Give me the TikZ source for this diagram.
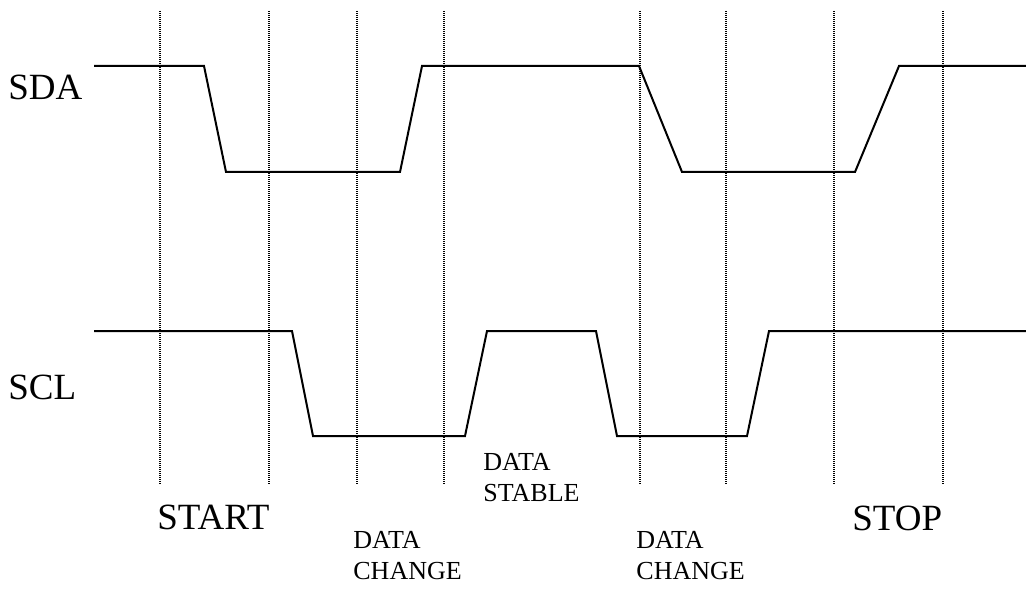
\documentclass[tikz,border=0pt]{standalone}
\usepackage{fontspec}
\setmainfont{Liberation Serif}

\begin{document}
\begin{tikzpicture}[x=0.5pt, y=-0.5pt,
    signal/.style={line width=1pt, line join=miter},
    tick/.style={line width=0.7pt, dash pattern=on 0.5pt off 0.5pt},
    biglabel/.style={inner sep=0pt, anchor=north west, font=\fontsize{18.5}{22}\selectfont},
    smalllabel/.style={inner sep=0pt, anchor=north west, align=left, font=\fontsize{13}{15.5}\selectfont}]
    \useasboundingbox (0,0) rectangle (1026,588);
    % dotted time marks
    \foreach \x in {160,269,357,444,640,726,834,943}
        \draw[tick] (\x,11) -- (\x,484);
    % SDA
    \draw[signal] (94,66) -- (204,66) -- (226,172) -- (400,172) -- (422,66) -- (639,66)
        -- (682,172) -- (855,172) -- (899,66) -- (1026,66);
    % SCL
    \draw[signal] (94,331) -- (292,331) -- (313,436) -- (465,436) -- (487,331) -- (596,331)
        -- (617,436) -- (747,436) -- (769,331) -- (1026,331);
    % labels
    \node[biglabel] (sda) at (8,75) {SDA};
    \node[biglabel] (scl) at (8,375) {SCL};
    \node[biglabel] (start) at (157,505) {START};
    \node[biglabel] (stop) at (852,506) {STOP};
    \node[smalllabel] (change1) at (353,531) {DATA\\CHANGE};
    \node[smalllabel] (stable) at (483,453) {DATA\\STABLE};
    \node[smalllabel] (change2) at (636,531) {DATA\\CHANGE};
\end{tikzpicture}
\end{document}
